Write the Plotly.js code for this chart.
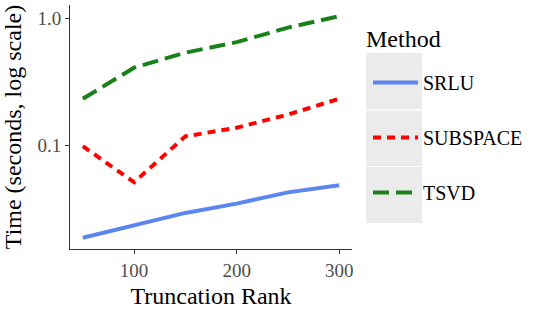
<!DOCTYPE html>
<html>
<head>
<meta charset="utf-8">
<script src="https://cdn.plot.ly/plotly-3.0.1.min.js"></script>
<style>html,body{margin:0;padding:0;background:#fff;}#chart{width:541px;height:309px;}</style>
</head>
<body>
<div id="chart"></div>
<script>
var ranks = [50, 100, 150, 200, 250, 300];
var srlu = [0.0188, 0.0234, 0.0295, 0.0349, 0.0428, 0.0487];
var subspace = [0.0988, 0.0514, 0.118, 0.138, 0.175, 0.233];
var tsvd = [0.233, 0.409, 0.537, 0.65, 0.845, 1.04];
var methods = ["SRLU", "SUBSPACE", "TSVD"];
var legendTitle = "Method";
var yTickVals = [0.1, 1];
var yTickText = ["0.1", "1.0"];
var xTickVals = [100, 200, 300];

var font = "Liberation Serif, Times New Roman, serif";
var traces = [
  {x: ranks, y: srlu, name: methods[0], legendgroup: "a", mode: "lines",
   line: {color: "#5b86ee", width: 4, dash: "solid"}},
  {x: ranks, y: subspace, name: methods[1], legendgroup: "b", mode: "lines",
   line: {color: "#ff0000", width: 4, dash: "8px,6px"}},
  {x: ranks, y: tsvd, name: methods[2], legendgroup: "c", mode: "lines",
   line: {color: "#1a801a", width: 4, dash: "16px,7px"}}
];

function px2x(p){ return (p - 70) / 282; }
function px2y(p){ return (249 - p) / 244; }
var boxes = [[53, 109.3], [110.7, 166], [167, 223]].map(function(b){
  return {type: "rect", xref: "paper", yref: "paper", layer: "below",
    x0: px2x(366), x1: px2x(422), y0: px2y(b[1]), y1: px2y(b[0]),
    fillcolor: "#ebebeb", line: {width: 0}};
});

var layout = {
  width: 541, height: 309,
  margin: {l: 70, r: 189, t: 5, b: 60},
  paper_bgcolor: "#ffffff", plot_bgcolor: "#ffffff",
  font: {family: font, color: "#000"},
  showlegend: true,
  xaxis: {
    range: [37.5, 312.5], tickvals: xTickVals, showgrid: false, zeroline: false,
    showline: true, linecolor: "#333", linewidth: 1,
    ticks: "outside", ticklen: 4, tickcolor: "#333", tickwidth: 1,
    tickfont: {family: font, size: 19, color: "#4d4d4d"},
    title: {text: "Truncation Rank", font: {family: font, size: 24, color: "#000"}, standoff: 12}
  },
  yaxis: {
    type: "log", range: [-1.814, 0.105], tickvals: yTickVals, ticktext: yTickText,
    showgrid: false, zeroline: false,
    showline: true, linecolor: "#333", linewidth: 1,
    ticks: "outside", ticklen: 4, tickcolor: "#333", tickwidth: 1,
    tickfont: {family: font, size: 19, color: "#4d4d4d"},
    title: {text: "Time (seconds, log scale)", font: {family: font, size: 24, color: "#000"}, standoff: 10}
  },
  legend: {
    x: px2x(368), xanchor: "left", y: px2y(63), yanchor: "top",
    font: {family: font, size: 20, color: "#000"},
    bgcolor: "rgba(0,0,0,0)", borderwidth: 0,
    tracegroupgap: 26, itemwidth: 45
  },
  annotations: [{
    text: legendTitle, xref: "paper", yref: "paper", x: px2x(364), y: px2y(39),
    xanchor: "left", yanchor: "middle", showarrow: false,
    font: {family: font, size: 24, color: "#000"}
  }],
  shapes: boxes
};
Plotly.newPlot("chart", traces, layout, {displayModeBar: false, staticPlot: true});
</script>
</body>
</html>
